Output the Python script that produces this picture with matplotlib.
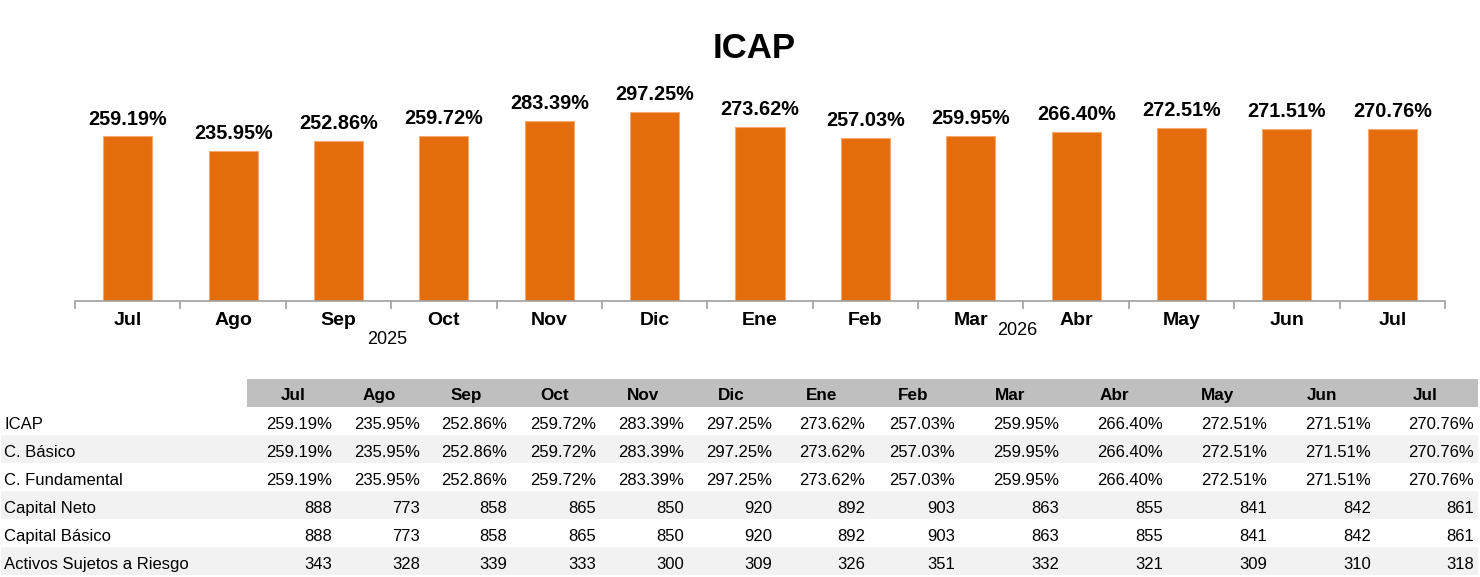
import matplotlib
matplotlib.use("Agg")
import matplotlib.pyplot as plt
from matplotlib.patches import Rectangle

plt.rcParams['font.family'] = ['Liberation Sans', 'DejaVu Sans']

# datos
meses = ['Jul', 'Ago', 'Sep', 'Oct', 'Nov', 'Dic', 'Ene', 'Feb', 'Mar', 'Abr', 'May', 'Jun', 'Jul']
icap = [259.19, 235.95, 252.86, 259.72, 283.39, 297.25, 273.62, 257.03, 259.95, 266.40, 272.51, 271.51, 270.76]
c_basico = [259.19, 235.95, 252.86, 259.72, 283.39, 297.25, 273.62, 257.03, 259.95, 266.40, 272.51, 271.51, 270.76]
c_fundamental = [259.19, 235.95, 252.86, 259.72, 283.39, 297.25, 273.62, 257.03, 259.95, 266.40, 272.51, 271.51, 270.76]
capital_neto = [888, 773, 858, 865, 850, 920, 892, 903, 863, 855, 841, 842, 861]
capital_basico = [888, 773, 858, 865, 850, 920, 892, 903, 863, 855, 841, 842, 861]
activos_riesgo = [343, 328, 339, 333, 300, 309, 326, 351, 332, 321, 309, 310, 318]
anios = ['2025', '2026']

filas = [
    ('ICAP', icap, True),
    ('C. Básico', c_basico, True),
    ('C. Fundamental', c_fundamental, True),
    ('Capital Neto', capital_neto, False),
    ('Capital Básico', capital_basico, False),
    ('Activos Sujetos a Riesgo', activos_riesgo, False),
]

W, H = 1480, 577
fig = plt.figure(figsize=(W / 100, H / 100), dpi=100)

# ---- grafico de barras ----
ax = fig.add_axes([75 / W, (H - 301) / H, 1370 / W, 215.8 / H])
x = list(range(len(meses)))
ax.bar(x, icap, width=0.465, color='#E46C0A', edgecolor='#F5A870', linewidth=0.8, zorder=2)
ax.set_xlim(-0.5, len(meses) - 0.5)
ax.set_ylim(0, 340)
for s in ['top', 'right', 'left']:
    ax.spines[s].set_visible(False)
ax.spines['bottom'].set_color('#a0a0a0')
ax.spines['bottom'].set_linewidth(1.2)
ax.set_yticks([])
ax.set_xticks([i - 0.5 for i in range(len(meses) + 1)])
ax.set_xticklabels([])
ax.tick_params(axis='x', length=6, width=1.2, color='#a0a0a0', direction='out')

for i, v in enumerate(icap):
    ax.annotate(f'{v:.2f}%', xy=(i, v), xytext=(0, 12.5), textcoords='offset points',
                ha='center', va='center', fontsize=14.3, fontweight='bold')
    ax.annotate(meses[i], xy=(i, 0), xycoords=('data', 'axes fraction'), xytext=(0, -14),
                textcoords='offset points', ha='center', va='center', fontsize=14, fontweight='bold')

ax.annotate(anios[0], xy=(2.465, 0), xycoords=('data', 'axes fraction'), xytext=(0, -28),
            textcoords='offset points', ha='center', va='center', fontsize=13)
ax.annotate(anios[1], xy=(8.437, 0), xycoords=('data', 'axes fraction'), xytext=(0, -21.5),
            textcoords='offset points', ha='center', va='center', fontsize=13)

fig.text(754 / W, 1 - 48 / H, 'ICAP', ha='center', va='center', fontsize=25, fontweight='bold')

# ---- tabla ----
tx = fig.add_axes([0, (H - 379 - 7 * 28) / H, 1, 7 * 28 / H])
tx.set_xlim(0, W)
tx.set_ylim(7, 0)
tx.axis('off')

bordes_der = [332, 420, 507, 596, 684, 772, 865, 955, 1059, 1163, 1267, 1371, 1474]
bordes_izq = [248] + bordes_der[:-1]

tx.add_patch(Rectangle((247, 0), 1478 - 247, 1, facecolor='#BFBFBF', edgecolor='none'))
for r in range(1, 7):
    if r % 2 == 0:
        tx.add_patch(Rectangle((1, r), 1477, 1, facecolor='#F2F2F2', edgecolor='none'))

for j, m in enumerate(meses):
    cx = (bordes_izq[j] + bordes_der[j]) / 2 + 3
    tx.text(cx, 0.58, m, ha='center', va='center', fontsize=12.3, fontweight='bold')

for r, (nombre, vals, pct) in enumerate(filas, start=1):
    tx.text(4, r + 0.62, nombre, ha='left', va='center', fontsize=12)
    for j, v in enumerate(vals):
        txt = f'{v:.2f}%' if pct else f'{v:d}'
        tx.text(bordes_der[j], r + 0.62, txt, ha='right', va='center', fontsize=12)

fig.savefig('out.png', dpi=100)
